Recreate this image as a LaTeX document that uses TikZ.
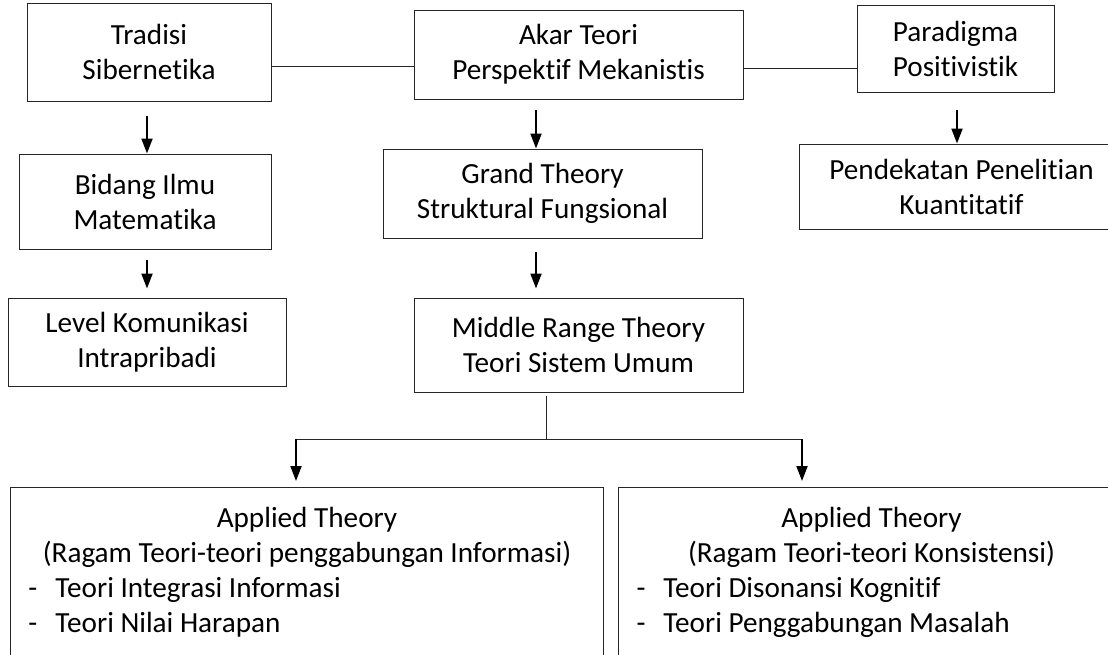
\documentclass[tikz,border=0pt]{standalone}
\usepackage{fontspec}
\setmainfont{Carlito}[Ligatures=NoCommon]
\usetikzlibrary{arrows.meta, calc}

\newcommand{\butir}[1]{\hspace*{9pt}\makebox[13.5pt][l]{-}#1}

\begin{document}
\begin{tikzpicture}[x=0.5pt, y=-0.5pt, >={Triangle[length=7.5pt, width=5.5pt]},
  kotak/.style={draw=black!85, line width=0.5pt, align=center, inner sep=0pt,
    font=\fontsize{14.6pt}{17.5pt}\selectfont},
  garis/.style={draw=black!85, line width=0.5pt},
  panah/.style={->, line width=1pt}]
  \useasboundingbox (0,0) rectangle (1108,654);
  % baris atas
  \node[kotak, minimum width=122pt, minimum height=49pt] (tradisi) at (149,52) {Tradisi\\Sibernetika};
  \node[kotak, minimum width=164.5pt, minimum height=44.5pt] (akar) at (578.5,54.5) {Akar Teori\\Perspektif Mekanistis};
  \node[kotak, minimum width=98.5pt, minimum height=43.5pt] (paradigma) at (955.5,48.5) {Paradigma\\Positivistik};
  % baris kedua
  \node[kotak, minimum width=126pt, minimum height=47.5pt] (bidang) at (145,201.5) {Bidang Ilmu\\Matematika};
  \node[kotak, minimum width=159.5pt, minimum height=44.5pt] (grand) at (542.5,193.5) {Grand Theory\\Struktural Fungsional};
  \node[kotak, minimum width=162.5pt, minimum height=42.5pt] (pendekatan) at (961.5,186.5) {Pendekatan Penelitian\\Kuantitatif};
  % baris ketiga
  \node[kotak, minimum width=139pt, minimum height=44pt] (level) at (147,342) {Level Komunikasi\\Intrapribadi};
  \node[kotak, minimum width=164.5pt, minimum height=47pt] (middle) at (578.5,345) {Middle Range Theory\\Teori Sistem Umum};
  % applied theory
  \node[kotak, anchor=north west] (applied1) at (10,487) {\parbox[c][90.5pt][t]{296.5pt}{%
    \centering\rule{0pt}{20pt}Applied Theory\\
    (Ragam Teori-teori penggabungan Informasi)\par
    \raggedright
    \butir{Teori Integrasi Informasi}\\
    \butir{Teori Nilai Harapan}}};
  \node[kotak, anchor=north west] (applied2) at (618,487) {\parbox[c][90.5pt][t]{253pt}{%
    \centering\rule{0pt}{20pt}Applied Theory\\
    (Ragam Teori-teori Konsistensi)\par
    \raggedright
    \butir{Teori Disonansi Kognitif}\\
    \butir{Teori Penggabungan Masalah}}};
  % garis penghubung
  \draw[garis] ($(tradisi.east)+(0,14)$) coordinate (h1) -- (h1 -| akar.west);
  \draw[garis] ($(akar.east)+(0,13.5)$) coordinate (h2) -- (h2 -| paradigma.west);
  % panah
  \draw[panah] ($(tradisi.south)+(-2,14)$) coordinate (a1) -- (a1 |- bidang.north);
  \draw[panah] ($(bidang.south)+(2,10)$) coordinate (a2) -- ($(a2 |- level.north)+(0,-9)$);
  \draw[panah] ($(grand.north)+(-6.5,-39)$) coordinate (a3) -- (a3 |- grand.north);
  \draw[panah] ($(grand.south)+(-6.5,13)$) coordinate (a4) -- ($(a4 |- middle.north)+(0,-9)$);
  \draw[panah] ($(paradigma.south)+(1.5,17)$) coordinate (a5) -- (a5 |- pendekatan.north);
  % cabang ke applied theory
  \draw[garis] ($(middle.south)+(-32.5,3)$) -- ++(0,44) coordinate (cabang);
  \coordinate (kiri) at (296,439);
  \coordinate (kanan) at (802,439);
  \draw[garis] (kiri) -- (kanan);
  \draw[panah] (kiri) -- ($(kiri |- applied1.north)+(0,-6)$);
  \draw[panah] (kanan) -- ($(kanan |- applied2.north)+(0,-6)$);
\end{tikzpicture}
\end{document}
